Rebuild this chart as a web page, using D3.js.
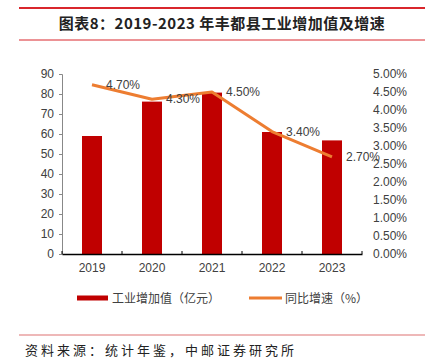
<!DOCTYPE html>
<html>
<head>
<meta charset="utf-8">
<script src="https://cdn.jsdelivr.net/npm/d3@7"></script>
<style>
  body { margin: 0; background: #fff; }
  svg { display: block; }
  text { font-family: "Liberation Sans", Arial, sans-serif; }
  .cjk { font-family: "Noto Sans CJK SC", sans-serif; }
</style>
</head>
<body>
<svg id="chart" width="425" height="363"></svg>
<script>
// data
var years = ["2019", "2020", "2021", "2022", "2023"];
var addedValue = [59, 76.2, 80.7, 61, 56.8];   // 亿元
var growth = [4.7, 4.3, 4.5, 3.4, 2.7];        // %
var leftTicks = [0, 10, 20, 30, 40, 50, 60, 70, 80, 90];
var rightTicks = [0, 0.5, 1, 1.5, 2, 2.5, 3, 3.5, 4, 4.5, 5];

var svg = d3.select("#chart");
var lPad = 62, tPad = 74, conWidth = 300, conHeight = 180;

var x = d3.scaleBand()
  .domain(years)
  .range([lPad, lPad + conWidth]);
var yL = d3.scaleLinear().domain([0, 90]).range([tPad + conHeight, tPad]);
var yR = d3.scaleLinear().domain([0, 5]).range([tPad + conHeight, tPad]);

// header rules + title
svg.append("line").attr("x1", 19).attr("x2", 425).attr("y1", 8).attr("y2", 8)
  .attr("stroke", "#d9262c").attr("stroke-width", 2);
svg.append("line").attr("x1", 19).attr("x2", 425).attr("y1", 40).attr("y2", 40)
  .attr("stroke", "#d9262c").attr("stroke-width", 1);
svg.append("text").attr("class", "cjk")
  .attr("x", 222).attr("y", 29).attr("text-anchor", "middle")
  .attr("font-size", 15).attr("font-weight", "bold").attr("fill", "#222")
  .attr("letter-spacing", 0.5)
  .text("图表8：2019-2023 年丰都县工业增加值及增速");

// left axis
var leftAxis = d3.axisLeft(yL).tickValues(leftTicks).tickSize(3).tickPadding(5);
var gL = svg.append("g")
  .attr("transform", "translate(" + lPad + ",0)")
  .call(leftAxis);
gL.select(".domain").attr("stroke", "#888");
gL.selectAll(".tick line").attr("stroke", "#888");
gL.selectAll("text").attr("font-size", 12).attr("fill", "#404040");

// right axis (labels only)
var rightAxis = d3.axisRight(yR).tickValues(rightTicks).tickSize(0).tickPadding(0)
  .tickFormat(function(d) { return d3.format(".2f")(d) + "%"; });
var gR = svg.append("g")
  .attr("transform", "translate(373,0)")
  .call(rightAxis);
gR.select(".domain").remove();
gR.selectAll("text").attr("font-size", 12).attr("fill", "#404040");

// bars
svg.append("g").selectAll("rect")
  .data(addedValue)
  .enter().append("rect")
  .attr("x", function(d, i) { return x(years[i]) + x.bandwidth() / 2 - 10; })
  .attr("width", 20)
  .attr("y", function(d) { return yL(d); })
  .attr("height", function(d) { return yL(0) - yL(d); })
  .attr("fill", "#c00000");

// x axis
var xAxis = d3.axisBottom(x).tickSize(0).tickPadding(9);
var gX = svg.append("g")
  .attr("transform", "translate(0," + (tPad + conHeight) + ")")
  .call(xAxis);
gX.select(".domain").attr("stroke", "#000").attr("stroke-width", 1.5);
gX.selectAll("text").attr("font-size", 12).attr("fill", "#404040");
// upward boundary ticks between categories
svg.append("g").selectAll("line")
  .data(years.concat(["end"]))
  .enter().append("line")
  .attr("x1", function(d, i) { return lPad + i * x.step(); })
  .attr("x2", function(d, i) { return lPad + i * x.step(); })
  .attr("y1", tPad + conHeight).attr("y2", tPad + conHeight - 3)
  .attr("stroke", "#000");

// growth line
var lineG = d3.line()
  .x(function(d, i) { return x(years[i]) + x.bandwidth() / 2; })
  .y(function(d) { return yR(d); });
svg.append("path")
  .datum(growth)
  .attr("d", lineG)
  .attr("fill", "none")
  .attr("stroke", "#ed7d31")
  .attr("stroke-width", 3)
  .attr("stroke-linejoin", "round");

svg.append("g").selectAll("text")
  .data(growth)
  .enter().append("text")
  .attr("x", function(d, i) { return x(years[i]) + x.bandwidth() / 2 + 14; })
  .attr("y", function(d) { return yR(d) + 4; })
  .attr("font-size", 12).attr("fill", "#404040")
  .text(function(d) { return d3.format(".2f")(d) + "%"; });

// legend
svg.append("rect").attr("x", 77).attr("y", 295.5).attr("width", 31).attr("height", 5)
  .attr("fill", "#c00000");
svg.append("text").attr("class", "cjk").attr("x", 112).attr("y", 302.5)
  .attr("font-size", 12).attr("fill", "#404040").text("工业增加值（亿元）");
svg.append("line").attr("x1", 249).attr("x2", 282).attr("y1", 298).attr("y2", 298)
  .attr("stroke", "#ed7d31").attr("stroke-width", 3);
svg.append("text").attr("class", "cjk").attr("x", 285).attr("y", 302.5)
  .attr("font-size", 12).attr("fill", "#404040").text("同比增速（%）");

// footer
svg.append("line").attr("x1", 19).attr("x2", 425).attr("y1", 335).attr("y2", 335)
  .attr("stroke", "#e8a0a0").attr("stroke-width", 1.5);
svg.append("text").attr("class", "cjk").attr("x", 25).attr("y", 355)
  .attr("font-size", 13).attr("fill", "#222").attr("letter-spacing", 3)
  .text("资料来源：统计年鉴，中邮证券研究所");
</script>
</body>
</html>
